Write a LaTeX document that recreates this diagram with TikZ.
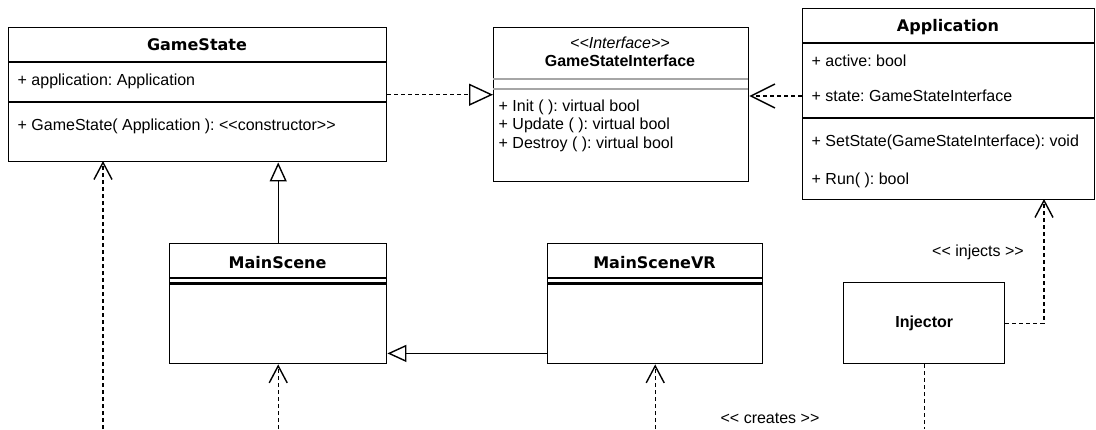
\documentclass[tikz,border=0pt]{standalone}
\usepackage{fontspec}
\setmainfont{Liberation Sans}
\newfontfamily\titlefont{DejaVu Sans}
\usetikzlibrary{arrows.meta}

% stereotype brackets without guillemet ligatures
\newcommand{\stereo}[1]{<\kern0pt<#1>\kern0pt>}

\begin{document}
\frenchspacing
\begin{tikzpicture}[x=0.5pt, y=-0.5pt,
    font=\fontsize{8}{10}\selectfont,
    line width=0.7pt,
    classbox/.style={rectangle, draw, anchor=north west, inner sep=0pt},
    title/.style={font=\fontsize{8}{10}\selectfont\titlefont\bfseries},
    ititle/.style={font=\fontsize{8}{10}\selectfont\bfseries},
    member/.style={anchor=west, inner sep=0pt},
    dep/.style={dash pattern=on 2pt off 1.5pt},
    opentip/.style={-{Straight Barb[length=8.5pt, width=9pt]}},
    gentip/.style={-{Triangle[open, length=9.5pt, width=8.5pt]}}
]
    \useasboundingbox (0,0) rectangle (1096,429);
    \coordinate (bot) at (0,429);

    % GameState
    \node[classbox, minimum width=189pt, minimum height=67pt] (gs) at (8,27) {};
    \node[title] (gstitle) at (197,45) {GameState};
    \draw (8,62) -- (386,62);
    \node[member] (gsapp) at (17,81) {+ application: Application};
    \draw (8,102) -- (386,102);
    \node[member] (gsctor) at (17,126) {+ GameState( Application ): \stereo{constructor}};

    % GameStateInterface
    \node[classbox, minimum width=127.5pt, minimum height=77pt] (gsi) at (493,27) {};
    \node (gsistereo) at (620,43) {\itshape\stereo{Interface}};
    \node[ititle] (gsititle) at (620,61) {GameStateInterface};
    \draw[gray!70, line width=0.6pt] (493,79) -- (748,79);
    \draw[gray!70, line width=0.6pt] (493,89) -- (748,89);
    \node[member] (gsiinit) at (498,107) {+ Init ( ): virtual bool};
    \node[member] (gsiupd) at (498,125) {+ Update ( ): virtual bool};
    \node[member] (gsidel) at (498,144) {+ Destroy ( ): virtual bool};

    % Application
    \node[classbox, minimum width=146pt, minimum height=95.5pt] (app) at (802,8) {};
    \node[title] (apptitle) at (948,27) {Application};
    \draw (802,43) -- (1094,43);
    \node[member] (appactive) at (811,61) {+ active: bool};
    \node[member] (appstate) at (811,96) {+ state: GameStateInterface};
    \draw (802,118) -- (1094,118);
    \node[member] (appset) at (811,142) {+ SetState(GameStateInterface): void};
    \node[member] (apprun) at (811,180) {+ Run( ): bool};

    % MainScene
    \node[classbox, minimum width=108.5pt, minimum height=60pt] (ms) at (169,243) {};
    \node[title] (mstitle) at (277.5,263) {MainScene};
    \draw (169,278) -- (386,278);
    \draw[line width=1.3pt] (169,283.5) -- (386,283.5);

    % MainSceneVR
    \node[classbox, minimum width=107.5pt, minimum height=60pt] (msvr) at (547,243) {};
    \node[title] (msvrtitle) at (654.5,263) {MainSceneVR};
    \draw (547,278) -- (762,278);
    \draw[line width=1.3pt] (547,283.5) -- (762,283.5);

    % Injector
    \node[classbox, ititle, minimum width=80.5pt, minimum height=40.5pt] (inj) at (843,282) {Injector};
    \coordinate (injend) at (1044,199);

    % connectors
    \draw[dep, -{Triangle[open, length=12pt, width=11pt]}] (gs.east) -- (gs.east -| gsi.west);
    \draw[dep, -{Straight Barb[length=12pt, width=12pt]}] (appstate.west -| app.west) -- (appstate.west -| gsi.east);
    \draw[gentip] (ms.north) -- (ms.north |- gs.south);
    \draw[gentip] ([yshift=5.5pt]msvr.south west) -- ([yshift=5.5pt]ms.south east);
    \draw[dep, opentip] (103,429) -- (103,161);
    \draw[dep, opentip] (ms.south |- bot) -- (ms.south);
    \draw[dep, opentip] (msvr.south |- bot) -- (msvr.south);
    \draw[dep, opentip] (inj.east) -| (injend);
    \draw[dep] (inj.south) -- (inj.south |- bot);

    \node (injects) at (978,252) {\stereo{ injects }};
    \node (creates) at (770,418) {\stereo{ creates }};
\end{tikzpicture}
\end{document}
